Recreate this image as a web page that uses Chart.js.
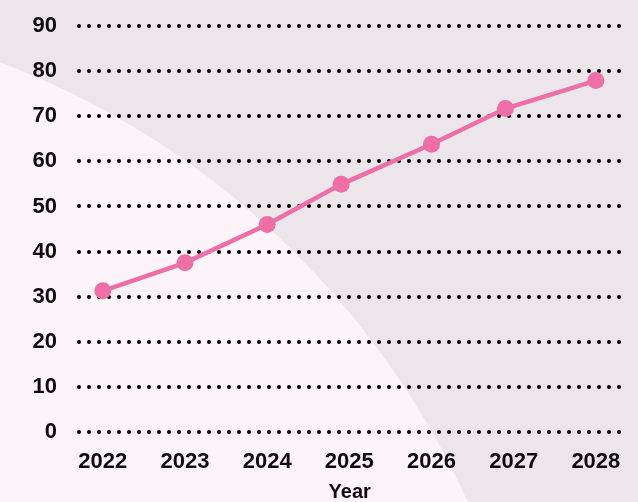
<!DOCTYPE html>
<html lang="en">
<head>
    <meta charset="UTF-8">
    <title>Year line chart</title>
    <script src="https://cdn.jsdelivr.net/npm/chart.js"></script>
    <style>
        html, body { margin: 0; padding: 0; background: #ece6ea; }
        canvas { display: block; }
    </style>
</head>
<body>
    <canvas id="chart" width="638" height="502"></canvas>
</body>

<script>
// 데이터
const years    = [2022, 2023, 2024, 2025, 2026, 2027, 2028];   // x tick labels
const pointX   = [2022, 2023, 2024, 2024.9, 2026, 2026.9, 2028]; // point positions
const values   = [31.3, 37.5, 46.0, 54.9, 63.8, 71.7, 77.9];
const yTicks   = [0, 10, 20, 30, 40, 50, 60, 70, 80, 90];
const xTitle   = 'Year';

const pink = '#ee6fa8';
const ink  = '#0d0d0d';
const fontFamily = '"Liberation Sans", Arial, sans-serif';

// 배경: 회색 바탕 + 왼쪽 아래 밝은 원
const backdrop = {
    id: 'backdrop',
    beforeDraw(chart) {
        const ctx = chart.ctx;
        ctx.save();
        ctx.fillStyle = '#ece6ea';
        ctx.fillRect(0, 0, chart.width, chart.height);
        ctx.fillStyle = '#fdf4f9';
        ctx.beginPath();
        ctx.arc(-300, 850, 843, 0, Math.PI * 2);
        ctx.fill();
        ctx.restore();
        // round caps so the dashed grid turns into dots
        ctx.lineCap = 'round';
    }
};

new Chart(document.getElementById('chart'), {
    type: 'line',
    data: {
        datasets: [{
            data: pointX.map((x, i) => ({x: x, y: values[i]})),
            borderColor: pink,
            backgroundColor: pink,
            borderWidth: 4.5,
            pointRadius: 8.5,
            pointBorderWidth: 0,
            pointBackgroundColor: pink,
            tension: 0
        }]
    },
    options: {
        responsive: false,
        animation: false,
        layout: { padding: { top: 26, left: 30, right: 15, bottom: 0 } },
        plugins: {
            legend: { display: false },
            tooltip: { enabled: false }
        },
        scales: {
            x: {
                type: 'linear',
                min: 2021.71,
                max: 2028.3,
                afterBuildTicks: s => { s.ticks = years.map(v => ({value: v})); },
                afterFit: s => { s.height = 70; },
                grid: { display: false, drawTicks: false },
                border: { display: false },
                ticks: {
                    padding: 17,
                    minRotation: 0,
                    maxRotation: 0,
                    color: ink,
                    font: { family: fontFamily, size: 22, weight: 'bold' },
                    callback: v => String(v)
                },
                title: {
                    display: true,
                    text: xTitle,
                    color: ink,
                    font: { family: fontFamily, size: 20, weight: 'bold' },
                    padding: { top: 0, bottom: -2 }
                }
            },
            y: {
                min: 0,
                max: 90,
                afterBuildTicks: s => { s.ticks = yTicks.map(v => ({value: v})); },
                afterFit: s => { s.width = 49; s.paddingTop = 0; s.paddingBottom = 0; },
                grid: { color: '#000', lineWidth: 4, drawTicks: false },
                border: { display: false, dash: [0, 10] },
                ticks: {
                    padding: 22,
                    color: ink,
                    font: { family: fontFamily, size: 22, weight: 'bold' }
                }
            }
        }
    },
    plugins: [backdrop]
});
</script>
</html>
